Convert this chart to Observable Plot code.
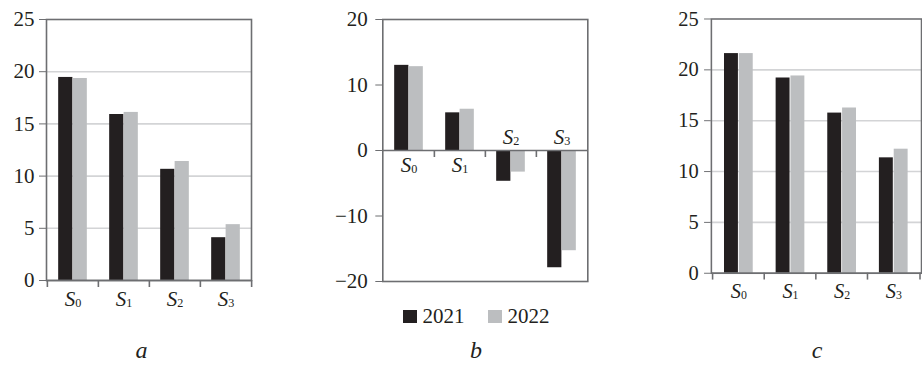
<!DOCTYPE html>
<html>
<head>
<meta charset="utf-8">
<script src="https://cdn.jsdelivr.net/npm/d3@7"></script>
<script src="https://cdn.jsdelivr.net/npm/@observablehq/plot@0.6"></script>
<style>
  html, body { margin: 0; padding: 0; background: #fff; overflow: hidden; }
  #wrap { position: relative; width: 922px; height: 366px; overflow: hidden; font-family: "Liberation Serif", serif; color: #231f20; }
  .panel { position: absolute; top: 0; }
  .panel svg text { fill: #231f20; }
  .lbl { position: absolute; font-style: italic; font-size: 24px; line-height: 24px; transform: translateX(-50%); }
  .leg { position: absolute; font-size: 21px; line-height: 21px; }
  .sw { position: absolute; width: 14px; height: 13px; }
</style>
</head>
<body>
<div id="wrap"></div>
<script>
// ---- data ----
const categories = ["S0", "S1", "S2", "S3"];
const years = ["2021", "2022"];
const valuesA2021 = [19.45, 15.9, 10.65, 4.1];
const valuesA2022 = [19.35, 16.1, 11.4, 5.35];
const valuesB2021 = [13.0, 5.75, -4.7, -17.9];
const valuesB2022 = [12.8, 6.3, -3.3, -15.3];
const valuesC2021 = [21.6, 19.2, 15.75, 11.35];
const valuesC2022 = [21.6, 19.4, 16.25, 12.2];
const ticksAC = [0, 5, 10, 15, 20, 25];
const gridAC = [5, 10, 15, 20];
const ticksB = [-20, -10, 0, 10, 20];
const panelLabels = ["a", "b", "c"];

const colBlack = "#231f20";
const colGray = "#bcbec0";
const colFrame = "#6d6e71";
const colGrid = "#d3d4d6";
const serif = "Liberation Serif";

function rows(vals) { return categories.map((c, i) => ({cat: c, value: vals[i]})); }

function subscriptify(svg) {
  d3.select(svg).selectAll("text").each(function () {
    const t = this.textContent;
    if (/^S\d$/.test(t)) {
      this.textContent = "";
      const s = d3.select(this);
      s.append("tspan").attr("font-style", "italic").text("S");
      s.append("tspan").attr("font-size", "0.58em").attr("dy", "0.12em").text(t.slice(1));
    }
  });
}

function makePanel(o) {
  const fw = o.width - o.ml - o.mr;
  const bw = fw / categories.length;
  const fh = 366 - 19 - o.mb;
  const [d0, d1] = o.domain;
  const zeroFromTop = fh * (d1 - 0) / (d1 - d0);
  const d2021 = rows(o.v2021), d2022 = rows(o.v2022);
  const marks = [];
  if (o.grid) marks.push(Plot.ruleY(o.grid, {stroke: colGrid, strokeWidth: 1.6}));
  marks.push(Plot.barY(d2021, {x: "cat", y: "value", fill: colBlack, insetLeft: bw * 0.218, insetRight: bw * 0.5}));
  marks.push(Plot.barY(d2022, {x: "cat", y: "value", fill: colGray, insetLeft: bw * 0.5, insetRight: bw * 0.218}));
  marks.push(Plot.frame({stroke: colFrame, strokeWidth: 1.6}));
  marks.push(Plot.ruleY([0], {stroke: colFrame, strokeWidth: 1.6}));
  const tickCats = o.edgeTicks ? categories : categories.slice(1);
  marks.push(Plot.tickX(tickCats, {x: d => d, dx: -bw / 2, stroke: colFrame, strokeWidth: 1.6,
    insetTop: zeroFromTop, insetBottom: fh - zeroFromTop - 7}));
  if (o.edgeTicks) {
    marks.push(Plot.tickX(categories.slice(-1), {x: d => d, dx: bw / 2, stroke: colFrame, strokeWidth: 1.6,
      insetTop: zeroFromTop, insetBottom: fh - zeroFromTop - 7}));
  }
  if (o.signLabels) {
    marks.push(Plot.text(d2021, {filter: d => d.value >= 0, x: "cat", y: () => 0, text: "cat", dy: 21,
      lineAnchor: "bottom", fontSize: 21, fill: colBlack, fontFamily: serif}));
    marks.push(Plot.text(d2021, {filter: d => d.value < 0, x: "cat", y: () => 0, text: "cat", dy: -7,
      lineAnchor: "bottom", fontSize: 21, fill: colBlack, fontFamily: serif}));
  } else {
    marks.push(Plot.text(categories, {x: d => d, y: () => 0, text: d => d, dy: 25,
      lineAnchor: "bottom", fontSize: 21, fill: colBlack, fontFamily: serif}));
  }
  const svg = Plot.plot({
    width: o.width,
    height: 366,
    marginTop: 19,
    marginBottom: o.mb,
    marginLeft: o.ml,
    marginRight: o.mr,
    style: {fontFamily: serif, fontSize: "21px", color: colFrame, background: "transparent", overflow: "visible"},
    x: {domain: categories, padding: 0, axis: null},
    y: {domain: o.domain, ticks: o.ticks, tickSize: 7, tickPadding: o.tp, label: null,
        tickFormat: d => (d < 0 ? "\u2212" + Math.abs(d) : String(d))},
    marks
  });
  subscriptify(svg);
  const div = document.createElement("div");
  div.className = "panel";
  div.style.left = o.left + "px";
  div.appendChild(svg);
  document.getElementById("wrap").appendChild(div);
}

makePanel({left: 0, width: 300, ml: 46, mr: 49, mb: 86, domain: [0, 25], ticks: ticksAC, grid: gridAC,
  v2021: valuesA2021, v2022: valuesA2022, edgeTicks: true, tp: 5});
makePanel({left: 300, width: 320, ml: 82.3, mr: 32.7, mb: 85, domain: [-20, 20], ticks: ticksB, grid: null,
  v2021: valuesB2021, v2022: valuesB2022, edgeTicks: false, signLabels: true, tp: 8});
makePanel({left: 620, width: 310, ml: 93.3, mr: 1, mb: 86, domain: [0, 25], ticks: ticksAC, grid: gridAC,
  v2021: valuesC2021, v2022: valuesC2022, edgeTicks: true, tp: 6});

// legend
const wrap = document.getElementById("wrap");
const legendColors = [colBlack, colGray];
const legendX = [403, 488];
years.forEach((y, i) => {
  const sw = document.createElement("div");
  sw.className = "sw";
  sw.style.left = legendX[i] + "px";
  sw.style.top = "310px";
  sw.style.background = legendColors[i];
  wrap.appendChild(sw);
  const t = document.createElement("div");
  t.className = "leg";
  t.style.left = (legendX[i] + 19.5) + "px";
  t.style.top = "305.5px";
  t.textContent = y;
  wrap.appendChild(t);
});

// panel labels
const labelX = [141.5, 476, 817];
panelLabels.forEach((l, i) => {
  const d = document.createElement("div");
  d.className = "lbl";
  d.style.left = labelX[i] + "px";
  d.style.top = "338px";
  d.textContent = l;
  wrap.appendChild(d);
});
</script>
</body>
</html>
